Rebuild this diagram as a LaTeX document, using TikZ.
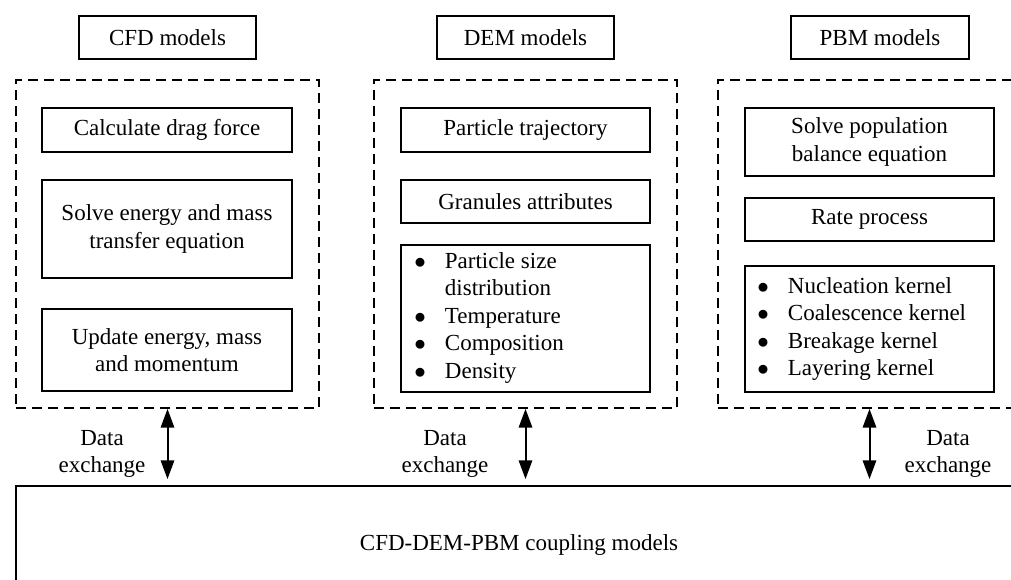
\documentclass[tikz,border=0pt]{standalone}
\usepackage{fontspec}
\setmainfont{Liberation Serif}
\usetikzlibrary{arrows.meta}
\newcommand{\itemdot}{$\bullet$}
\begin{document}
\begin{tikzpicture}[x=0.75pt,y=-0.75pt,
  every node/.style={font=\fontsize{17.25}{20.7}\selectfont, inner sep=0pt},
  sz/.style 2 args={minimum width=#1*0.75pt, minimum height=#2*0.75pt},
  box/.style={draw, line width=1.4pt, align=center},
  group/.style={draw, line width=1.3pt, dash pattern=on 7.5pt off 4.5pt},
  label/.style={align=center},
  dex/.style={{Triangle[length=14pt,width=10pt]}-{Triangle[length=14pt,width=10pt]},
              line width=1.5pt, shorten >=4.5pt}]
\useasboundingbox (0,0) rectangle (1011,579);
\clip (0,0) rectangle (1011,579);

% model titles
\node[box, sz={177}{43}] (cfdtitle) at (167.5,37.5) {CFD models};
\node[box, sz={177}{43}] (demtitle) at (525.5,37.5) {DEM models};
\node[box, sz={178}{43}] (pbmtitle) at (880,37.5) {PBM models};

% dashed groups
\node[group, sz={303}{328}] (cfdgroup) at (167.5,244) {};
\node[group, sz={303}{328}] (demgroup) at (525.5,244) {};
\node[group, sz={303}{328}] (pbmgroup) at (869.5,244) {};

% CFD steps
\node[box, sz={250}{44}] (drag) at (167,130) {Calculate drag force};
\node[box, sz={250}{98}] (solve) at (167,229) {Solve energy and mass\\transfer equation};
\node[box, sz={250}{82}] (update) at (167,350) {Update energy, mass\\and momentum};

% DEM steps
\node[box, sz={249}{44}] (traj) at (525.5,130) {Particle trajectory};
\node[box, sz={249}{43}] (gran) at (525.5,201.5) {Granules attributes};
\node[box, sz={249}{147}] (demlist) at (525.5,318.5) {};
\node[anchor=base west] (demitems) at (414,268)
  {\begin{tabular}[t]{@{}p{23pt}@{}l@{}}
   \itemdot&Particle size\\
    &distribution\\
   \itemdot&Temperature\\
   \itemdot&Composition\\
   \itemdot&Density
   \end{tabular}};

% PBM steps
\node[box, sz={249}{68}] (pbe) at (869.5,142) {Solve population\\balance equation};
\node[box, sz={249}{43}] (rate) at (869.5,219.5) {Rate process};
\node[box, sz={249}{126}] (pbmlist) at (869.5,329) {};
\node[anchor=base west] (pbmitems) at (757,293)
  {\begin{tabular}[t]{@{}p{23pt}@{}l@{}}
   \itemdot&Nucleation kernel\\
   \itemdot&Coalescence kernel\\
   \itemdot&Breakage kernel\\
   \itemdot&Layering kernel
   \end{tabular}};

% coupling frame
\node[box, sz={1006}{118}] (coupling) at (519,545) {CFD-DEM-PBM coupling models};

% data exchange
\draw[dex] (cfdgroup.south) -- (cfdgroup.south |- coupling.north);
\draw[dex] (demgroup.south) -- (demgroup.south |- coupling.north);
\draw[dex] (pbmgroup.south) -- (pbmgroup.south |- coupling.north);
\node[label] (cfdx) at (102,454) {Data\\exchange};
\node[label] (demx) at (445,454) {Data\\exchange};
\node[label] (pbmx) at (948,454) {Data\\exchange};
\end{tikzpicture}
\end{document}
